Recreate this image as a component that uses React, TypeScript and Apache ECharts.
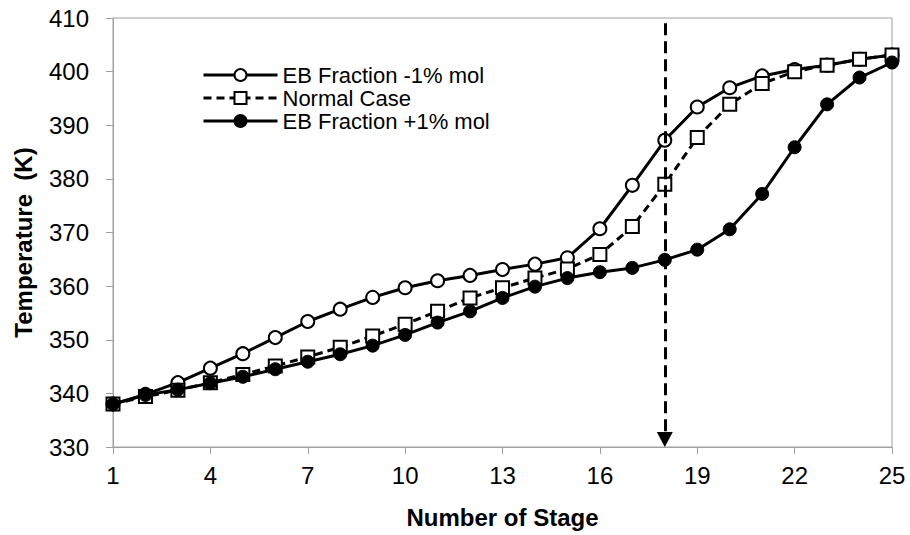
import React, { useEffect, useRef } from "react";
import * as echarts from "echarts";

const stages = [1, 2, 3, 4, 5, 6, 7, 8, 9, 10, 11, 12, 13, 14, 15, 16, 17, 18, 19, 20, 21, 22, 23, 24, 25];

const ebMinus1 = [
  338.0, 339.8, 342.0, 344.7, 347.4, 350.4, 353.4, 355.7, 357.9, 359.7, 361.0, 362.0, 363.1,
  364.1, 365.3, 370.7, 378.8, 387.2, 393.4, 397.0, 399.2, 400.4, 401.2, 402.3, 403.1,
];

const normalCase = [
  338.0, 339.4, 340.6, 342.0, 343.5, 345.1, 346.8, 348.6, 350.7, 352.9, 355.3, 357.8, 359.7,
  361.5, 363.2, 365.9, 371.1, 379.0, 387.7, 393.9, 397.8, 400.0, 401.2, 402.3, 403.1,
];

const ebPlus1 = [
  338.0, 339.7, 340.7, 341.9, 343.1, 344.5, 345.9, 347.3, 348.9, 350.9, 353.2, 355.3, 357.8,
  359.9, 361.5, 362.6, 363.4, 364.9, 366.8, 370.6, 377.2, 385.9, 393.9, 398.9, 401.7,
];

const seriesNames = ["EB Fraction -1% mol", "Normal Case", "EB Fraction +1% mol"];

const arrowStage = 18;
const arrowFrom = 409;
const arrowTo = 331.4;

const FONT = "Liberation Sans, Arial, sans-serif";

export default function App() {
  const ref = useRef<HTMLDivElement>(null);

  useEffect(() => {
    if (!ref.current) return;
    const chart = echarts.init(ref.current, null, { renderer: "svg" });
    const pair = (arr: number[]) => stages.map((s, i) => [s, arr[i]]);

    chart.setOption({
      animation: false,
      backgroundColor: "#ffffff",
      textStyle: { fontFamily: FONT },
      grid: {
        left: 113,
        right: 18,
        top: 18,
        bottom: 88,
        show: true,
        borderColor: "#a0a0a0",
        borderWidth: 1,
      },
      legend: {
        orient: "vertical",
        left: 197,
        top: 59,
        itemWidth: 74,
        itemHeight: 15,
        itemGap: 1,
        data: seriesNames,
        lineStyle: { width: 3 },
        textStyle: { fontSize: 22, color: "#000", fontFamily: FONT, lineHeight: 22 },
      },
      xAxis: {
        type: "value",
        min: 1,
        max: 25,
        interval: 3,
        name: "Number of Stage",
        nameLocation: "middle",
        nameGap: 58,
        nameTextStyle: { fontSize: 24, fontWeight: "bold", color: "#000", fontFamily: FONT },
        axisLine: { show: true, lineStyle: { color: "#a0a0a0", width: 1 } },
        axisTick: { show: true, length: 7, lineStyle: { color: "#a0a0a0" } },
        axisLabel: { fontSize: 24, color: "#000", margin: 16, fontFamily: FONT },
        splitLine: { show: false },
      },
      yAxis: {
        type: "value",
        min: 330,
        max: 410,
        interval: 10,
        name: "Temperature  (K)",
        nameLocation: "middle",
        nameGap: 78,
        nameRotate: 90,
        nameTextStyle: {
          fontSize: 24,
          fontWeight: "bold",
          color: "#000",
          fontFamily: FONT,
          padding: [0, 20, 0, 0],
        },
        axisLine: { show: true, lineStyle: { color: "#a0a0a0", width: 1 } },
        axisTick: { show: true, length: 7, lineStyle: { color: "#a0a0a0" } },
        axisLabel: { fontSize: 24, color: "#000", margin: 24, fontFamily: FONT },
        splitLine: { show: false },
      },
      series: [
        {
          name: seriesNames[0],
          type: "line",
          data: pair(ebMinus1),
          symbol: "circle",
          symbolSize: 13,
          showAllSymbol: true,
          lineStyle: { color: "#000", width: 3 },
          itemStyle: { color: "#fff", borderColor: "#000", borderWidth: 2 },
        },
        {
          name: seriesNames[1],
          type: "line",
          data: pair(normalCase),
          symbol: "rect",
          symbolSize: 13,
          showAllSymbol: true,
          lineStyle: { color: "#000", width: 3, type: [8, 5] },
          itemStyle: { color: "#fff", borderColor: "#000", borderWidth: 2 },
        },
        {
          name: seriesNames[2],
          type: "line",
          data: pair(ebPlus1),
          symbol: "circle",
          symbolSize: 13,
          showAllSymbol: true,
          lineStyle: { color: "#000", width: 3 },
          itemStyle: { color: "#000", borderColor: "#000", borderWidth: 1 },
          markLine: {
            silent: true,
            symbol: ["none", "triangle"],
            symbolSize: [16, 15],
            label: { show: false },
            lineStyle: { color: "#000", width: 3, type: [12, 6] },
            data: [[{ coord: [arrowStage, arrowFrom] }, { coord: [arrowStage, arrowTo] }]],
          },
        },
      ],
    });

    return () => chart.dispose();
  }, []);

  return (
    <div
      ref={ref}
      style={{ position: "fixed", left: 0, top: 0, width: 910, height: 535, background: "#fff" }}
    />
  );
}
